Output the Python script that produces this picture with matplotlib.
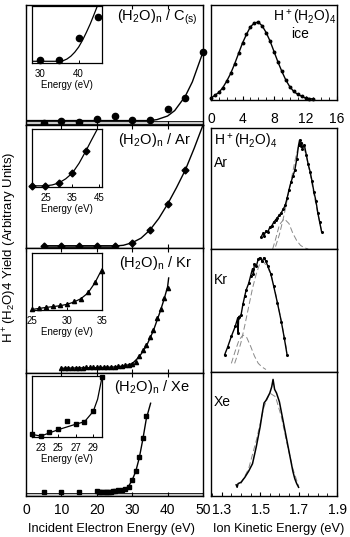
import matplotlib
matplotlib.use("Agg")
import matplotlib.pyplot as plt
from matplotlib.ticker import MultipleLocator

plt.rcParams['font.family'] = ['Liberation Sans', 'DejaVu Sans']
plt.rcParams['mathtext.default'] = 'regular'

# ---------------- left column: yield vs incident electron energy ----------------
# (H2O)n / C(s)
c_x = [5, 10, 15, 20, 25, 30, 35, 40, 45, 50]
c_y = [0.017, 0.033, 0.025, 0.05, 0.075, 0.042, 0.042, 0.133, 0.225, 0.608]
c_fit_x = [0, 35, 37, 40, 42, 45, 47, 50]
c_fit_y = [0.037, 0.037, 0.045, 0.075, 0.12, 0.24, 0.36, 0.608]
c_in_x = [30, 35, 40, 45]
c_in_y = [0.05, 0.05, 0.44, 0.81]
c_in_fit_x = [28, 35, 36, 37, 38, 39, 40, 41, 42, 43, 44, 44.8]
c_in_fit_y = [0.03, 0.03, 0.04, 0.07, 0.12, 0.19, 0.28, 0.40, 0.54, 0.69, 0.86, 1.0]

# (H2O)n / Ar
ar_x = [5, 10, 15, 20, 25, 30, 35, 40, 45]
ar_y = [0.016, 0.016, 0.016, 0.016, 0.016, 0.043, 0.146, 0.357, 0.634]
ar_fit_x = [5, 25, 27.5, 30, 32.5, 35, 37.5, 40, 42.5, 45, 47.5, 50]
ar_fit_y = [0.016, 0.016, 0.022, 0.043, 0.08, 0.146, 0.24, 0.357, 0.49, 0.634, 0.81, 1.0]
ar_in_x = [20, 25, 30, 35, 40]
ar_in_y = [0.02, 0.02, 0.07, 0.24, 0.62]
ar_in_fit_x = [20, 25, 27.5, 30, 32.5, 35, 37.5, 40, 42, 44.3]
ar_in_fit_y = [0.02, 0.02, 0.035, 0.07, 0.14, 0.24, 0.41, 0.62, 0.80, 1.0]

# (H2O)n / Kr
kr_x = list(range(10, 41))
kr_y = [0.04, 0.04, 0.04, 0.042, 0.042, 0.043, 0.043, 0.044, 0.044, 0.045,
        0.045, 0.046, 0.046, 0.047, 0.048, 0.05, 0.052, 0.055, 0.06, 0.066,
        0.075, 0.09, 0.136, 0.184, 0.224, 0.286, 0.344, 0.438, 0.51, 0.598, 0.678]
kr_fit_x = [10, 20, 25, 28, 30, 32, 34, 36, 38, 39, 40, 40.3]
kr_fit_y = [0.038, 0.043, 0.048, 0.058, 0.075, 0.13, 0.215, 0.34, 0.5, 0.59, 0.69, 0.76]
kr_in_x = [25, 26, 27, 28, 29, 30, 31, 32, 33, 34, 35]
kr_in_y = [0.01, 0.035, 0.05, 0.065, 0.08, 0.10, 0.15, 0.19, 0.31, 0.50, 0.69]
kr_in_fit_x = [25, 27, 29, 30, 31, 32, 33, 34, 35]
kr_in_fit_y = [0.01, 0.045, 0.075, 0.10, 0.14, 0.20, 0.30, 0.48, 0.72]

# (H2O)n / Xe
xe_x = [5, 10, 15, 20, 20.5, 21, 21.5, 22, 22.5, 23, 23.5, 24, 24.5, 25,
        26, 27, 28, 29, 30, 31, 32, 33, 34]
xe_y = [0.035, 0.035, 0.03, 0.04, 0.035, 0.03, 0.035, 0.03, 0.03, 0.03, 0.035, 0.035,
        0.04, 0.04, 0.05, 0.05, 0.055, 0.076, 0.13, 0.2, 0.32, 0.47, 0.65]
xe_fit_x = [20, 25, 27, 28, 29, 30, 31, 32, 33, 34, 35.2]
xe_fit_y = [0.03, 0.035, 0.045, 0.055, 0.08, 0.13, 0.2, 0.31, 0.46, 0.63, 0.754]
xe_in_x = [22, 23, 24, 25, 26, 27, 28, 29, 30]
xe_in_y = [0.044, 0.01, 0.082, 0.13, 0.26, 0.22, 0.25, 0.43, 0.98]
xe_in_fit_x = [22, 23, 25, 27, 28, 29, 29.5, 30]
xe_in_fit_y = [0.044, 0.015, 0.12, 0.21, 0.25, 0.42, 0.62, 0.98]

# ---------------- right column: ion kinetic energy distributions ----------------
ice_x = [0, 0.5, 1, 1.5, 2, 2.5, 3, 3.5, 4, 4.5, 5, 5.5, 6, 6.5, 7, 7.5, 8, 8.5,
         9, 9.5, 10, 10.5, 11, 11.5, 12, 12.5, 13]
ice_y = [0.02, 0.05, 0.08, 0.13, 0.20, 0.28, 0.38, 0.49, 0.60, 0.69, 0.77, 0.81,
         0.82, 0.78, 0.71, 0.62, 0.51, 0.40, 0.30, 0.21, 0.14, 0.09, 0.06, 0.04,
         0.02, 0.015, 0.01]

ar_ke_x = [1.505, 1.515, 1.52, 1.53, 1.54, 1.55, 1.56, 1.57, 1.58, 1.59, 1.60, 1.61,
           1.62, 1.63, 1.64, 1.65, 1.66, 1.67, 1.68, 1.69, 1.70, 1.705, 1.71, 1.715,
           1.72, 1.73, 1.74, 1.75, 1.76, 1.77, 1.78, 1.79, 1.80, 1.81, 1.82]
ar_ke_y = [0.10, 0.13, 0.11, 0.15, 0.14, 0.18, 0.19, 0.22, 0.24, 0.26, 0.28, 0.30,
           0.33, 0.36, 0.42, 0.49, 0.55, 0.60, 0.65, 0.74, 0.86, 0.90, 0.85, 0.88,
           0.83, 0.86, 0.78, 0.70, 0.64, 0.56, 0.47, 0.40, 0.30, 0.22, 0.14]
ar_big_x = [1.58, 1.60, 1.62, 1.64, 1.66, 1.68, 1.70, 1.72, 1.74, 1.76, 1.78, 1.80, 1.82]
ar_big_y = [0.02, 0.12, 0.25, 0.40, 0.56, 0.72, 0.86, 0.88, 0.77, 0.62, 0.45, 0.29, 0.15]
ar_small_x = [1.565, 1.58, 1.60, 1.625, 1.65, 1.67, 1.69, 1.71, 1.73, 1.75]
ar_small_y = [0.0, 0.08, 0.20, 0.25, 0.21, 0.13, 0.07, 0.03, 0.01, 0.0]

kr_ke_x = [1.315, 1.33, 1.35, 1.37, 1.383, 1.385, 1.388, 1.40, 1.41, 1.42, 1.427,
           1.44, 1.45, 1.46, 1.465, 1.47, 1.48, 1.49, 1.50, 1.51, 1.52, 1.53, 1.54,
           1.555, 1.57, 1.59, 1.61, 1.625, 1.64]
kr_ke_y = [0.14, 0.20, 0.29, 0.37, 0.44, 0.32, 0.45, 0.46, 0.55, 0.62, 0.667,
           0.72, 0.78, 0.84, 0.80, 0.88, 0.86, 0.92, 0.93, 0.90, 0.93, 0.90, 0.86,
           0.80, 0.70, 0.56, 0.41, 0.28, 0.14]
kr_big_x = [1.367, 1.38, 1.40, 1.42, 1.44, 1.46, 1.48, 1.50, 1.52, 1.54, 1.56, 1.58,
            1.60, 1.62, 1.64]
kr_big_y = [0.07, 0.13, 0.24, 0.38, 0.53, 0.68, 0.80, 0.89, 0.89, 0.85, 0.77, 0.64,
            0.49, 0.33, 0.16]
kr_small_x = [1.35, 1.37, 1.39, 1.41, 1.43, 1.45, 1.47, 1.49, 1.51, 1.53]
kr_small_y = [0.07, 0.17, 0.26, 0.30, 0.28, 0.21, 0.13, 0.07, 0.04, 0.02]

xe_ke_x = [1.375, 1.38, 1.385, 1.40, 1.42, 1.44, 1.46, 1.47, 1.48, 1.49, 1.50, 1.51,
           1.52, 1.53, 1.54, 1.55, 1.56, 1.567, 1.575, 1.585, 1.60, 1.61, 1.62, 1.63,
           1.64, 1.65, 1.66, 1.67, 1.68, 1.69, 1.70]
xe_ke_y = [0.09, 0.07, 0.10, 0.11, 0.15, 0.20, 0.26, 0.33, 0.40, 0.48, 0.56, 0.66,
           0.75, 0.77, 0.80, 0.83, 0.88, 0.94, 0.86, 0.83, 0.76, 0.68, 0.60, 0.52,
           0.44, 0.36, 0.28, 0.20, 0.14, 0.10, 0.07]
xe_fit_ke_x = [1.40, 1.44, 1.48, 1.52, 1.55, 1.58, 1.61, 1.64, 1.67, 1.70]
xe_fit_ke_y = [0.10, 0.22, 0.45, 0.72, 0.83, 0.80, 0.64, 0.42, 0.22, 0.08]

fig = plt.figure(figsize=(3.5, 5.37), dpi=100)


def left_panel(pos, xs, ys, fx, fy, marker, ms, label, lx, ly, band=None, last=False):
    ax = fig.add_axes(pos)
    ax.set_xlim(0, 50)
    ax.set_ylim(0, 1)
    if band is not None:
        x0, x1, lo, hi = band
        ax.fill_between([x0, x1], [lo, lo], [hi, hi], facecolor='#c8c8c8',
                        edgecolor='k', lw=0.6, zorder=1)
    ax.plot(fx, fy, color='k', lw=1, zorder=2)
    ax.plot(xs, ys, ls='none', marker=marker, color='k', ms=ms, zorder=3, clip_on=False)
    ax.xaxis.set_major_locator(MultipleLocator(10))
    ax.set_yticks([])
    ax.tick_params(axis='x', direction='in', top=True, length=3, width=0.8,
                   labelbottom=last, labelsize=10, pad=5)
    for s in ax.spines.values():
        s.set_linewidth(1)
    ax.text(lx, ly, label, transform=ax.transAxes, ha='right', va='center', fontsize=10.5)
    return ax


def inset(pos, xs, ys, fx, fy, marker, ms, xlim, ticks):
    ax = fig.add_axes(pos)
    ax.set_xlim(*xlim)
    ax.set_ylim(0, 1)
    ax.plot(fx, fy, color='k', lw=0.9)
    ax.plot(xs, ys, ls='none', marker=marker, color='k', ms=ms, clip_on=False)
    ax.set_xticks(ticks)
    ax.set_yticks([])
    ax.tick_params(axis='x', direction='in', length=2.5, width=0.7, labelsize=7, pad=4)
    ax.set_xlabel('Energy (eV)', fontsize=7, labelpad=1)
    for s in ax.spines.values():
        s.set_linewidth(0.9)
    return ax


left_panel([0.0743, 0.7672, 0.5057, 0.2235], c_x, c_y, c_fit_x, c_fit_y, 'o', 4.5,
           r'(H$_2$O)$_n$ / C$_{(s)}$', 0.966, 0.90, band=(0, 50, 0.008, 0.036))
inset([0.0914, 0.8827, 0.2, 0.106], c_in_x, c_in_y, c_in_fit_x, c_in_fit_y, 'o', 4.5,
      (28, 46), [30, 40])

left_panel([0.0743, 0.5382, 0.5057, 0.229], ar_x, ar_y, ar_fit_x, ar_fit_y, 'D', 3.5,
           r'(H$_2$O)$_n$ / Ar', 0.932, 0.878, band=(5, 25, 0.006, 0.026))
inset([0.0914, 0.6518, 0.2, 0.108], ar_in_x, ar_in_y, ar_in_fit_x, ar_in_fit_y, 'D', 3.5,
      (20, 46), [25, 35, 45])

left_panel([0.0743, 0.3054, 0.5057, 0.2328], kr_x, kr_y, kr_fit_x, kr_fit_y, '^', 3,
           r'(H$_2$O)$_n$ / Kr', 0.938, 0.88)
inset([0.0914, 0.4227, 0.2, 0.106], kr_in_x, kr_in_y, kr_in_fit_x, kr_in_fit_y, '^', 3,
      (25, 35), [25, 30, 35])

left_panel([0.0743, 0.0764, 0.5057, 0.229], xe_x, xe_y, xe_fit_x, xe_fit_y, 's', 3.5,
           r'(H$_2$O)$_n$ / Xe', 0.927, 0.886, band=(0, 50, 0.003, 0.027), last=True)
inset([0.0914, 0.1862, 0.2, 0.1136], xe_in_x, xe_in_y, xe_in_fit_x, xe_in_fit_y, 's', 3.5,
      (22, 30), [23, 25, 27, 29])


def right_panel(pos, xlim):
    ax = fig.add_axes(pos)
    ax.set_xlim(*xlim)
    ax.set_ylim(0, 1)
    ax.set_yticks([])
    for s in ax.spines.values():
        s.set_linewidth(1)
    return ax


ax = right_panel([0.6029, 0.8138, 0.36, 0.1769], (0, 16))
ax.plot(ice_x, ice_y, color='k', lw=1, marker='o', ms=1.8, clip_on=False)
ax.xaxis.set_major_locator(MultipleLocator(4))
ax.xaxis.set_minor_locator(MultipleLocator(1))
ax.tick_params(axis='x', which='both', direction='in', labelsize=10, pad=9)
ax.tick_params(axis='x', which='major', length=3)
ax.tick_params(axis='x', which='minor', length=2)
ax.text(0.99, 0.97, r'H$^+$(H$_2$O)$_4$', transform=ax.transAxes, ha='right', va='top', fontsize=10)
ax.text(0.71, 0.69, 'ice', transform=ax.transAxes, ha='center', va='center', fontsize=10)

ke_lim = (1.244, 1.9)
ax = right_panel([0.6029, 0.5363, 0.36, 0.2253], ke_lim)
ax.plot(ar_big_x, ar_big_y, color='#888888', lw=0.7, ls=(0, (6, 3)))
ax.plot(ar_small_x, ar_small_y, color='#888888', lw=0.7, ls=(0, (6, 3)))
ax.plot(ar_ke_x, ar_ke_y, color='k', lw=1, marker='o', ms=1.2)
ax.set_xticks([])
ax.text(0.02, 0.97, r'H$^+$(H$_2$O)$_4$', transform=ax.transAxes, ha='left', va='top', fontsize=10)
ax.text(0.02, 0.71, 'Ar', transform=ax.transAxes, ha='left', va='center', fontsize=10)

ax = right_panel([0.6029, 0.3073, 0.36, 0.229], ke_lim)
ax.plot(kr_big_x, kr_big_y, color='#888888', lw=0.7, ls=(0, (6, 3)))
ax.plot(kr_small_x, kr_small_y, color='#888888', lw=0.7, ls=(0, (6, 3)))
ax.plot(kr_ke_x, kr_ke_y, color='k', lw=1, marker='o', ms=1.2)
ax.set_xticks([])
ax.text(0.02, 0.75, 'Kr', transform=ax.transAxes, ha='left', va='center', fontsize=10)

ax = right_panel([0.6029, 0.0764, 0.36, 0.2309], ke_lim)
ax.plot(xe_fit_ke_x, xe_fit_ke_y, color='#888888', lw=0.7, ls=(0, (6, 3)))
ax.plot(xe_ke_x, xe_ke_y, color='k', lw=1.1)
ax.set_xticks([1.3, 1.5, 1.7, 1.9])
ax.xaxis.set_minor_locator(MultipleLocator(0.05))
ax.tick_params(axis='x', which='both', direction='in', labelsize=10, pad=5)
ax.tick_params(axis='x', which='major', length=3)
ax.tick_params(axis='x', which='minor', length=2)
ax.text(0.02, 0.76, 'Xe', transform=ax.transAxes, ha='left', va='center', fontsize=10)

fig.text(0.029, 0.54, r'H$^+$(H$_2$O)4 Yield (Arbitrary Units)', rotation=90,
         ha='center', va='center', fontsize=9.5)
fig.text(0.318, 0.015, 'Incident Electron Energy (eV)', ha='center', va='center', fontsize=9.2)
fig.text(0.795, 0.015, 'Ion Kinetic Energy (eV)', ha='center', va='center', fontsize=9.2)

fig.savefig('out.png', dpi=100)
